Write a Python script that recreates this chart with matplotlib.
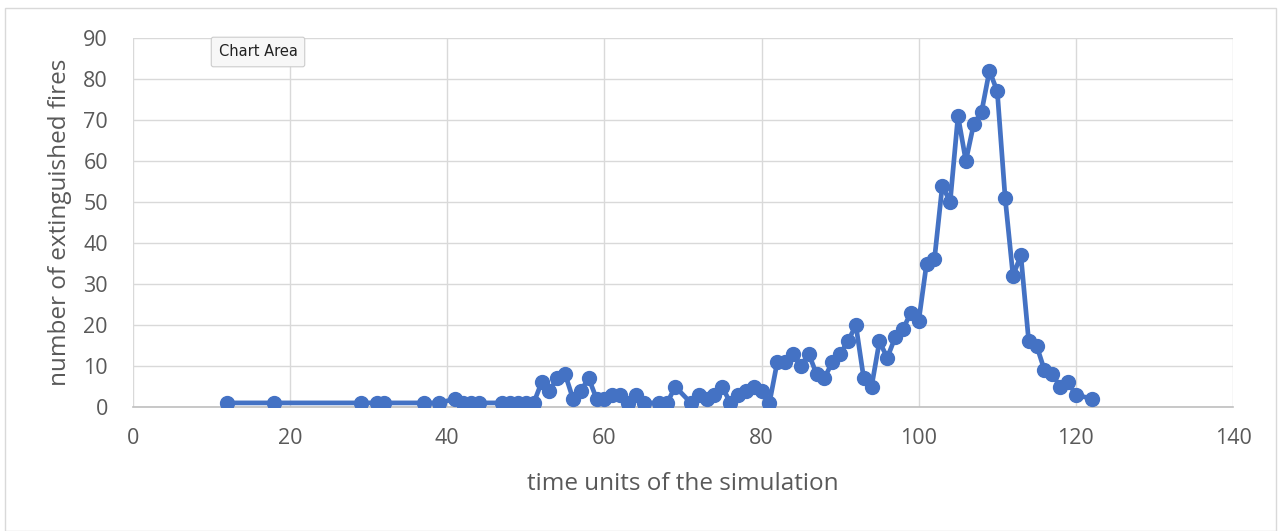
import matplotlib
matplotlib.use("Agg")
import matplotlib.pyplot as plt
from matplotlib.patches import Rectangle

time_units = [12, 18, 29, 31, 32, 37, 39, 41, 42, 43, 44, 47, 48, 49, 50, 51,
              52, 53, 54, 55, 56, 57, 58, 59, 60, 61, 62, 63, 64, 65, 67, 68,
              69, 71, 72, 73, 74, 75, 76, 77, 78, 79, 80, 81, 82, 83, 84, 85,
              86, 87, 88, 89, 90, 91, 92, 93, 94, 95, 96, 97, 98, 99, 100, 101,
              102, 103, 104, 105, 106, 107, 108, 109, 110, 111, 112, 113, 114,
              115, 116, 117, 118, 119, 120, 122]
extinguished = [1, 1, 1, 1, 1, 1, 1, 2, 1, 1, 1, 1, 1, 1, 1, 1,
                6, 4, 7, 8, 2, 4, 7, 2, 2, 3, 3, 1, 3, 1, 1, 1,
                5, 1, 3, 2, 3, 5, 1, 3, 4, 5, 4, 1, 11, 11, 13, 10,
                13, 8, 7, 11, 13, 16, 20, 7, 5, 16, 12, 17, 19, 23, 21, 35,
                36, 54, 50, 71, 60, 69, 72, 82, 77, 51, 32, 37, 16,
                15, 9, 8, 5, 6, 3, 2]

x_ticks = [0, 20, 40, 60, 80, 100, 120, 140]
y_ticks = [0, 10, 20, 30, 40, 50, 60, 70, 80, 90]

plt.rcParams['font.family'] = ['Open Sans', 'DejaVu Sans']

fig = plt.figure(figsize=(12.81, 5.31), dpi=100)
ax = fig.add_axes([133/1281, 1 - 407/531, 1100/1281, 369/531])

blue = '#4472C4'
ax.plot(time_units, extinguished, color=blue, linewidth=3.4, marker='o',
        markersize=10, markerfacecolor=blue, markeredgecolor=blue, zorder=3)

ax.set_xlim(0, 140)
ax.set_ylim(0, 90)
ax.set_xticks(x_ticks)
ax.set_yticks(y_ticks)
ax.grid(True, color='#d9d9d9', linewidth=1.0)
ax.set_axisbelow(True)
for s in ['top', 'right', 'left']:
    ax.spines[s].set_visible(False)
ax.spines['bottom'].set_color('#bfbfbf')
ax.spines['bottom'].set_linewidth(1.2)
ax.tick_params(axis='x', length=0, labelsize=15.5, labelcolor='#595959', pad=15)
ax.tick_params(axis='y', length=0, labelsize=15.5, labelcolor='#595959', pad=18)

ax.set_xlabel('time units of the simulation', fontsize=17.5, color='#595959', labelpad=17)
ax.set_ylabel('number of extinguished fires', fontsize=17.5, color='#595959', labelpad=8)

# chart border
fig.patches.append(Rectangle((5/1281, 0.0), 1271/1281, 1 - 8/531, transform=fig.transFigure,
                             fill=False, edgecolor='#d9d9d9', linewidth=1.0))

# tooltip "Chart Area"
fig.text(258/1281, 1 - 52/531, 'Chart Area', fontsize=10.5, color='#222222',
         ha='center', va='center', family=['DejaVu Sans'],
         bbox=dict(boxstyle='round,pad=0.5,rounding_size=0.15', facecolor='#f7f7f7',
                   edgecolor='#cccccc', linewidth=0.8))

fig.savefig('out.png', dpi=100)
